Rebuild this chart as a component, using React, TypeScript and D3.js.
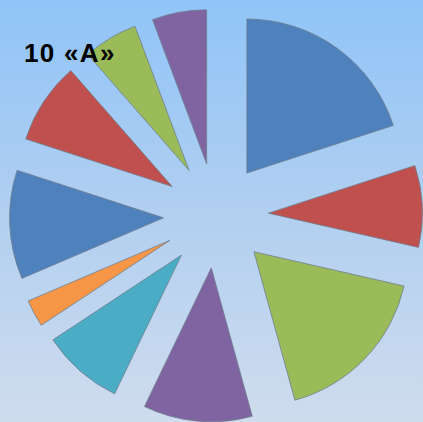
import React from "react";
import * as d3 from "d3";

const title = "10 «А»";
const categories = ["1", "2", "3", "4", "5", "6", "7", "8", "9", "10"];
const values = [7, 3, 6, 4, 3, 1, 4, 3, 2, 2];
const palette = ["#4F81BD", "#C0504D", "#9BBB59", "#8064A2", "#4BACC6", "#F79646"];

const W = 423;
const H = 422;

export default function App() {
  const cx = 216;
  const cy = 215.5;
  const r = 154;
  const explode = 52.5;
  const pie = d3.pie<number>().sort(null).value((d) => d);
  const arcs = pie(values);
  const arcGen = d3.arc<d3.PieArcDatum<number>>().innerRadius(0).outerRadius(r);
  const color = d3.scaleOrdinal<string, string>().domain(categories).range(palette);

  return (
    <svg
      width={W}
      height={H}
      style={{ position: "absolute", left: 0, top: 0, display: "block" }}
    >
      <defs>
        <linearGradient id="bg" x1="0" y1="0" x2="0" y2="1">
          <stop offset="0%" stopColor="#90C4F8" />
          <stop offset="50%" stopColor="#B1CFF0" />
          <stop offset="100%" stopColor="#CFDCEE" />
        </linearGradient>
      </defs>
      <rect x={0} y={0} width={W} height={H} fill="url(#bg)" />
      <g transform={`translate(${cx},${cy})`}>
        {arcs.map((a, i) => {
          const mid = (a.startAngle + a.endAngle) / 2;
          const dx = Math.sin(mid) * explode;
          const dy = -Math.cos(mid) * explode;
          return (
            <path
              key={i}
              d={arcGen(a) || ""}
              transform={`translate(${dx},${dy})`}
              fill={color(categories[i])}
              stroke="#6F7F8F"
              strokeWidth={0.8}
              strokeLinejoin="round"
            />
          );
        })}
      </g>
      <text
        x={24}
        y={62}
        fontFamily="'Liberation Sans', Arial, sans-serif"
        fontWeight="bold"
        fontSize={26}
        letterSpacing={1.3}
        fill="#000"
      >
        {title}
      </text>
    </svg>
  );
}
